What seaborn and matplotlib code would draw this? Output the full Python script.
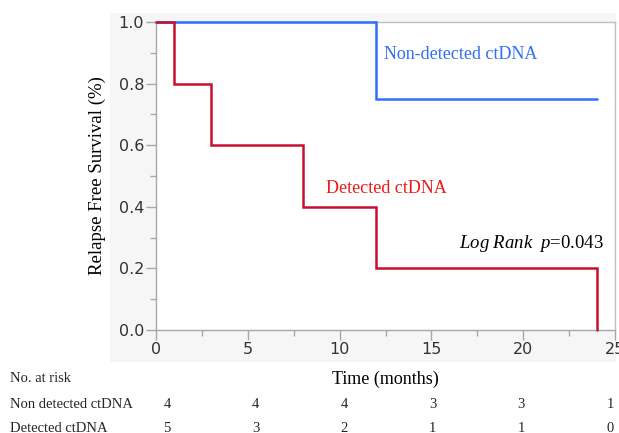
import matplotlib
matplotlib.use("Agg")
import matplotlib.pyplot as plt
import matplotlib.patches as mpatches
import matplotlib.transforms as mtransforms
import seaborn as sns
import pandas as pd
import numpy as np

# ---- data ----
nd_time = [0, 12, 24]
nd_surv = [1.0, 0.75, 0.75]
d_time = [0, 1, 3, 8, 12, 24]
d_surv = [1.0, 0.8, 0.6, 0.4, 0.2, 0.0]
groups = ["Non-detected ctDNA", "Detected ctDNA"]
risk_times = [0, 5, 10, 15, 20, 25]
risk_nd = [4, 4, 4, 3, 3, 1]
risk_d = [5, 3, 2, 1, 1, 0]
risk_labels = ["Non detected ctDNA", "Detected ctDNA"]
xticks = [0, 5, 10, 15, 20, 25]
yticks = [0.0, 0.2, 0.4, 0.6, 0.8, 1.0]

df = pd.concat([
    pd.DataFrame({"time": nd_time, "surv": nd_surv, "group": groups[0]}),
    pd.DataFrame({"time": d_time, "surv": d_surv, "group": groups[1]}),
])

sns.set_theme(style="white")
plt.rcParams['font.family'] = ['DejaVu Sans']
plt.rcParams['mathtext.fontset'] = 'custom'
plt.rcParams['mathtext.rm'] = 'Liberation Serif'
plt.rcParams['mathtext.it'] = 'Liberation Serif:italic'

W, H = 619, 433
fig = plt.figure(figsize=(W / 100, H / 100), dpi=100)

# gray panel behind axes
panel = mpatches.Rectangle((110 / W, 1 - 362 / H), (616 - 110) / W, (362 - 13) / H,
                           transform=fig.transFigure, facecolor="#F6F6F6",
                           edgecolor="none", zorder=-5)
fig.add_artist(panel)

ax = fig.add_axes([156 / W, 1 - 330 / H, (615 - 156) / W, (330 - 22) / H])
ax.set_zorder(2)
ax.set_facecolor("white")

colors = {groups[0]: "#2E70F8", groups[1]: "#C8102E"}
sns.lineplot(data=df, x="time", y="surv", hue="group", palette=colors,
             drawstyle="steps-post", estimator=None, legend=False,
             linewidth=1.8, ax=ax)
for i, ln in enumerate(ax.lines):
    ln.set_clip_on(False)
    ln.set_solid_joinstyle("miter")
    ln.set_zorder(4 + i)

ax.set_xlim(0, 25)
ax.set_ylim(0, 1.0)
ax.set_xticks(xticks)
ax.set_yticks(yticks)
ax.set_xticklabels([str(t) for t in xticks])
ax.set_yticklabels([f"{v:.1f}" for v in yticks])
ax.set_xticks(np.arange(0, 25.1, 2.5), minor=True)
ax.set_yticks(np.arange(0, 1.01, 0.1), minor=True)

spine_c = "#A8A8A8"
for s in ["left", "bottom"]:
    ax.spines[s].set_color(spine_c)
    ax.spines[s].set_linewidth(1.0)
for s in ["top", "right"]:
    ax.spines[s].set_color("#C0C0C0")
    ax.spines[s].set_linewidth(1.0)
ax.tick_params(axis="both", which="major", direction="out", length=7,
               width=1, color=spine_c, labelsize=11.5, labelcolor="#333333", pad=1.5)
ax.tick_params(axis="both", which="minor", direction="out", length=4,
               width=1, color=spine_c)
ax.tick_params(axis="x", which="both", bottom=True)
ax.tick_params(axis="y", which="both", left=True)

serif = "Liberation Serif"
ax.set_ylabel("Relapse Free Survival (%)", family=serif, fontsize=13.5,
              color="black", labelpad=9)
ax.set_xlabel("Time (months)", family=serif, fontsize=13, color="black",
              labelpad=10)

ax.text(12.4, 0.895, groups[0], family=serif, fontsize=13, color="#2E70F8",
        ha="left", va="center")
ax.text(9.25, 0.46, groups[1], family=serif, fontsize=13, color="#F01818",
        ha="left", va="center")
ax.text(16.5, 0.28, r"$\it{Log\ Rank}\ \ \it{p}$=0.043", family=serif,
        fontsize=13.5, ha="left", va="center", color="black")

# risk table
trans = mtransforms.blended_transform_factory(ax.transData, fig.transFigure)
fig.text(10 / W, 1 - 378 / H, "No. at risk", family=serif, fontsize=10.5,
         ha="left", va="center")
for row_y, lab, vals in [(405, risk_labels[0], risk_nd), (428, risk_labels[1], risk_d)]:
    fig.text(10 / W, 1 - row_y / H, lab, family=serif, fontsize=10.5,
             ha="left", va="center")
    for t, v in zip(risk_times, vals):
        ax.text(t * 0.965 + 0.6, 1 - row_y / H, str(v), transform=trans,
                family=serif, fontsize=10.5, ha="center", va="center",
                clip_on=False)

fig.savefig("out.png", dpi=100)
